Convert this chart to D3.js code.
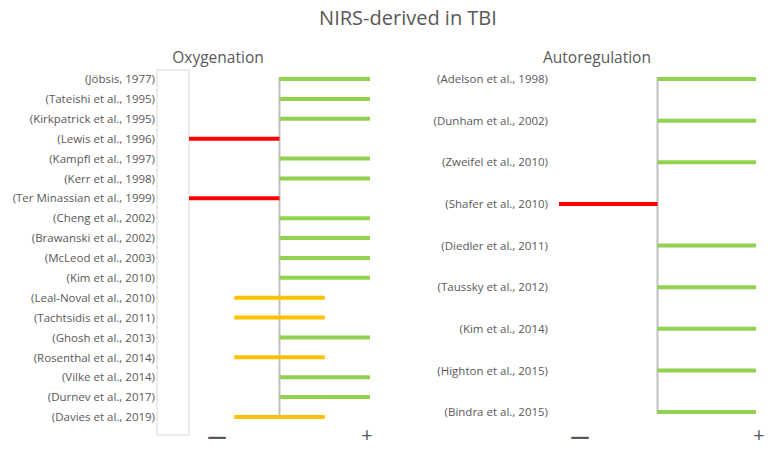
<!DOCTYPE html>
<html>
<head>
<meta charset="utf-8">
<script src="https://cdn.jsdelivr.net/npm/d3@7"></script>
<style>
  body { margin: 0; background: #fff; }
  svg text { font-family: "Open Sans", "Noto Sans", sans-serif; fill: #595959; }
</style>
</head>
<body>
<svg id="chart" width="779" height="450"></svg>
<script>
// Oxygenation studies, with each finding's span on the -1 (negative) .. +1 (positive) axis
const oxStudies = ['(Jöbsis, 1977)', '(Tateishi et al., 1995)', '(Kirkpatrick et al., 1995)', '(Lewis et al., 1996)',
  '(Kampfl et al., 1997)', '(Kerr et al., 1998)', '(Ter Minassian et al., 1999)', '(Cheng et al., 2002)',
  '(Brawanski et al., 2002)', '(McLeod et al., 2003)', '(Kim et al., 2010)', '(Leal-Noval et al., 2010)',
  '(Tachtsidis et al., 2011)', '(Ghosh et al., 2013)', '(Rosenthal et al., 2014)', '(Vilke et al., 2014)',
  '(Durnev et al., 2017)', '(Davies et al., 2019)'];
const oxLow  = [0, 0, 0, -1, 0, 0, -1, 0, 0, 0, 0, -0.5, -0.5, 0, -0.5, 0, 0, -0.5];
const oxHigh = [1, 1, 1, 0, 1, 1, 0, 1, 1, 1, 1, 0.5, 0.5, 1, 0.5, 1, 1, 0.5];

const arStudies = ['(Adelson et al., 1998)', '(Dunham et al., 2002)', '(Zweifel et al., 2010)', '(Shafer et al.,  2010)',
  '(Diedler et al., 2011)', '(Taussky et al., 2012)', '(Kim et al., 2014)', '(Highton et al., 2015)', '(Bindra et al., 2015)'];
const arLow  = [0, 0, 0, -1, 0, 0, 0, 0, 0];
const arHigh = [1, 1, 1, 0, 1, 1, 1, 1, 1];

const COLORS = { pos: '#92D050', neg: '#FF0000', mixed: '#FFC000' };
const kind = (lo, hi) => lo < 0 && hi > 0 ? 'mixed' : (hi > 0 ? 'pos' : 'neg');

const svg = d3.select('#chart');

svg.append('text').attr('x', 408).attr('y', 25).attr('text-anchor', 'middle')
  .attr('font-size', 20).text('NIRS-derived in TBI');

function panel(opts) {
  const { studies, lows, highs, title, titleX, labelX, xRange, yRange, box } = opts;
  const x = d3.scaleLinear().domain([-1, 1]).range(xRange);
  const y = d3.scalePoint().domain(studies).range(yRange);
  const g = svg.append('g');

  g.append('text').attr('x', titleX).attr('y', 63).attr('text-anchor', 'middle')
    .attr('font-size', 15.5).text(title);

  if (box) {
    g.append('rect').attr('x', labelX).attr('y', 70).attr('width', x(-1) - labelX).attr('height', 365)
      .attr('fill', 'none').attr('stroke', '#d9d9d9').attr('stroke-width', 1);
  }

  // zero line
  g.append('line')
    .attr('x1', x(0)).attr('x2', x(0))
    .attr('y1', y(studies[0]) - 2).attr('y2', y(studies[studies.length - 1]) + 2)
    .attr('stroke', '#bfbfbf').attr('stroke-width', 2);

  g.selectAll('line.bar')
    .data(studies)
    .join('line')
    .attr('class', 'bar')
    .attr('x1', (d, i) => x(lows[i]))
    .attr('x2', (d, i) => x(highs[i]))
    .attr('y1', d => y(d)).attr('y2', d => y(d))
    .attr('stroke', (d, i) => COLORS[kind(lows[i], highs[i])])
    .attr('stroke-width', 4);

  const axis = g.append('g').attr('transform', `translate(${labelX},0)`)
    .call(d3.axisLeft(y).tickSize(0).tickPadding(2));
  axis.select('.domain').remove();
  axis.selectAll('text').attr('font-size', 11.5).attr('fill', '#595959')
    .style('font-family', '"Open Sans", "Noto Sans", sans-serif');

  g.append('text').attr('x', x(-1) + opts.minusDx).attr('y', 436).attr('text-anchor', 'middle')
    .attr('dominant-baseline', 'central').attr('font-weight', 'bold')
    .attr('font-size', 19).attr('fill', '#8c8c8c').text('—');
  g.append('text').attr('x', x(1) + opts.plusDx).attr('y', 434).attr('text-anchor', 'middle')
    .attr('dominant-baseline', 'central')
    .attr('font-size', 20).attr('fill', '#8c8c8c').text('+');
}

panel({ studies: oxStudies, lows: oxLow, highs: oxHigh, title: 'Oxygenation', titleX: 218,
  labelX: 157, xRange: [189, 370], yRange: [79, 417], box: true, minusDx: 28, plusDx: -3 });
panel({ studies: arStudies, lows: arLow, highs: arHigh, title: 'Autoregulation', titleX: 597,
  labelX: 550, xRange: [559, 756], yRange: [79, 412], box: false, minusDx: 21, plusDx: 3 });
</script>
</body>
</html>
